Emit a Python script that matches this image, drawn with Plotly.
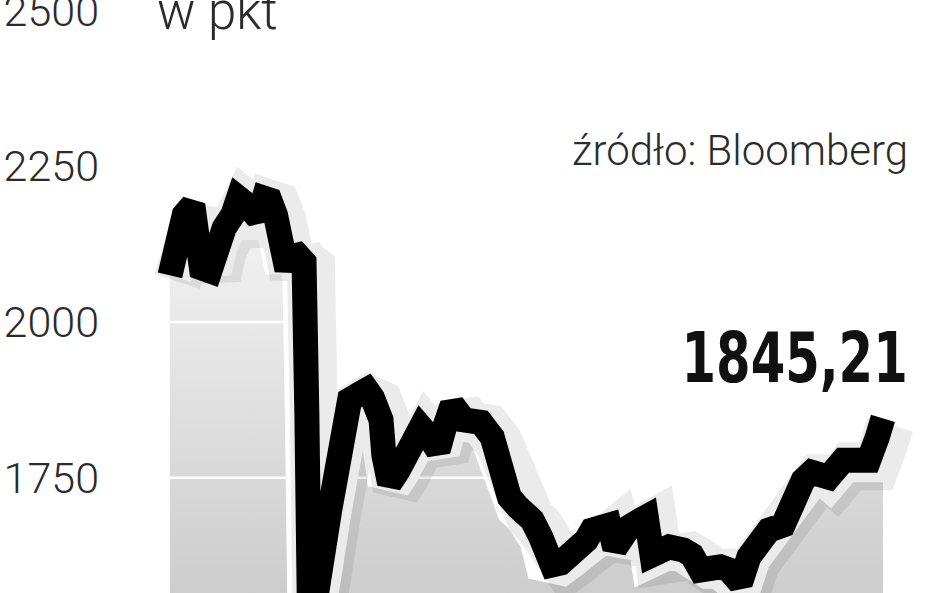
import plotly.graph_objects as go

# ---- data ----
sessions = [0, 2, 5, 8, 9, 11, 14, 16, 19, 22, 24, 27, 29, 31, 33, 35, 37, 39, 41, 43,
            45, 47, 48, 49, 56, 61, 63, 67, 69, 71, 74, 75, 77, 80, 83, 86, 88, 91, 94, 96,
            99, 103, 106, 109, 113, 116, 119, 122, 124, 127, 130, 132, 134, 137, 140, 143,
            146, 148, 151, 154, 156, 158, 161, 165, 167, 169, 172, 175, 180, 183, 186, 189,
            193, 196, 200, 203, 207, 210, 215, 218, 222, 225, 229, 231, 236, 241, 245, 248, 250]
values = [2075, 2116, 2172, 2188, 2156, 2087, 2082, 2124, 2151, 2172, 2199, 2188, 2167, 2167,
          2199, 2196, 2172, 2132, 2084, 2116, 2103, 2096, 1851, 1495, 1698, 1843, 1875, 1886,
          1891, 1878, 1843, 1786, 1741, 1762, 1790, 1823, 1831, 1815, 1794, 1827, 1867, 1843,
          1843, 1839, 1815, 1762, 1719, 1703, 1695, 1682, 1655, 1618, 1610, 1613, 1623, 1634,
          1650, 1666, 1674, 1674, 1637, 1658, 1671, 1682, 1687, 1626, 1634, 1639, 1634, 1626,
          1602, 1607, 1607, 1602, 1581, 1623, 1650, 1666, 1674, 1709, 1746, 1759, 1759, 1751,
          1778, 1774, 1778, 1815, 1845.21]
tick_values = [1750, 2000, 2250, 2500]
tick_labels = ["1750", "2000", "2250", "2500"]
title_text = "w pkt"
source_text = "źródło: Bloomberg"
last_value_label = "1845,21"

# ---- layout constants ----
W, H = 948, 593
X_RANGE = [-24.54, 272.8]
Y_RANGE = [1565, 2517]
PX_PER_X = 848 / (X_RANGE[1] - X_RANGE[0])
PX_PER_Y = H / (Y_RANGE[1] - Y_RANGE[0])
SHADOW_DX, SHADOW_DY = 7, 6
LIGHT_FONT = "Roboto, Open Sans, sans-serif"

fig = go.Figure()

# gradient area under the line
fig.add_trace(go.Scatter(
    x=sessions, y=values, mode="lines", line=dict(width=0),
    fill="tozeroy",
    fillgradient=dict(type="vertical",
                      colorscale=[[0, "#cdcdcd"], [1, "#f7f7f7"]],
                      start=Y_RANGE[0], stop=2230),
    hoverinfo="skip", showlegend=False))

# white grid lines drawn over the area
for tv in tick_values:
    fig.add_trace(go.Scatter(
        x=[X_RANGE[0], X_RANGE[1]], y=[tv, tv], mode="lines",
        line=dict(color="white", width=2.5), hoverinfo="skip", showlegend=False))

# soft shadow (same series on a shifted overlay axis)
fig.add_trace(go.Scatter(
    x=sessions, y=values, mode="lines", xaxis="x2", yaxis="y2",
    line=dict(color="rgba(0,0,0,0.08)", width=48),
    hoverinfo="skip", showlegend=False))

# white halo
fig.add_trace(go.Scatter(
    x=sessions, y=values, mode="lines",
    line=dict(color="white", width=44),
    hoverinfo="skip", showlegend=False))

# black line
fig.add_trace(go.Scatter(
    x=sessions, y=values, mode="lines",
    line=dict(color="black", width=25),
    showlegend=False))

fig.update_layout(
    autosize=True,
    margin=dict(l=100, r=0, t=0, b=0, autoexpand=False),
    paper_bgcolor="white", plot_bgcolor="white",
    xaxis=dict(range=X_RANGE, visible=False, fixedrange=True, automargin=False),
    yaxis=dict(range=Y_RANGE, tickvals=tick_values, ticktext=tick_labels,
               showgrid=False, zeroline=False, showline=False, ticks="",
               automargin=False, ticklabeloverflow="allow", ticklabelshift=0,
               tickfont=dict(family=LIGHT_FONT, size=43, color="#2b2b2b", weight=300)),
    xaxis2=dict(range=[X_RANGE[0] - SHADOW_DX / PX_PER_X, X_RANGE[1] - SHADOW_DX / PX_PER_X],
                overlaying="x", visible=False, automargin=False),
    yaxis2=dict(range=[Y_RANGE[0] + SHADOW_DY / PX_PER_Y, Y_RANGE[1] + SHADOW_DY / PX_PER_Y],
                overlaying="y", visible=False, automargin=False),
    annotations=[
        dict(text=title_text, xref="paper", yref="paper", x=(155 - 100) / 848, y=1 - 11 / H,
             xanchor="left", yanchor="middle", showarrow=False,
             font=dict(family=LIGHT_FONT, size=51, color="#2b2b2b", weight=300)),
        dict(text=source_text, xref="paper", yref="paper", x=(910 - 100) / 848, y=1 - 151 / H,
             xanchor="right", yanchor="middle", showarrow=False,
             font=dict(family=LIGHT_FONT, size=42, color="#2b2b2b", weight=300)),
        dict(text=last_value_label, xref="paper", yref="paper",
             x=(910 - 100) / 848, y=1 - 358 / H,
             xanchor="right", yanchor="middle", showarrow=False,
             font=dict(family="DejaVu Sans Condensed, DejaVu Sans, sans-serif",
                       size=69, color="#111111", weight="bold")),
    ],
)

post_js = (
    "document.body.style.margin='0';document.body.style.overflow='hidden';"
    "document.querySelectorAll('.annotation-text').forEach(function(e){"
    "if(e.textContent==='1845,21'){e.style.transformBox='fill-box';"
    "e.style.transformOrigin='100% 50%';e.style.transform='scaleX(0.8)';}});"
)

fig.write_html(
    "out.html",
    post_script=post_js,
    config={"displayModeBar": False},
    default_width="%dpx;position:absolute;left:0;top:0" % W,
    default_height="%dpx" % H,
)
